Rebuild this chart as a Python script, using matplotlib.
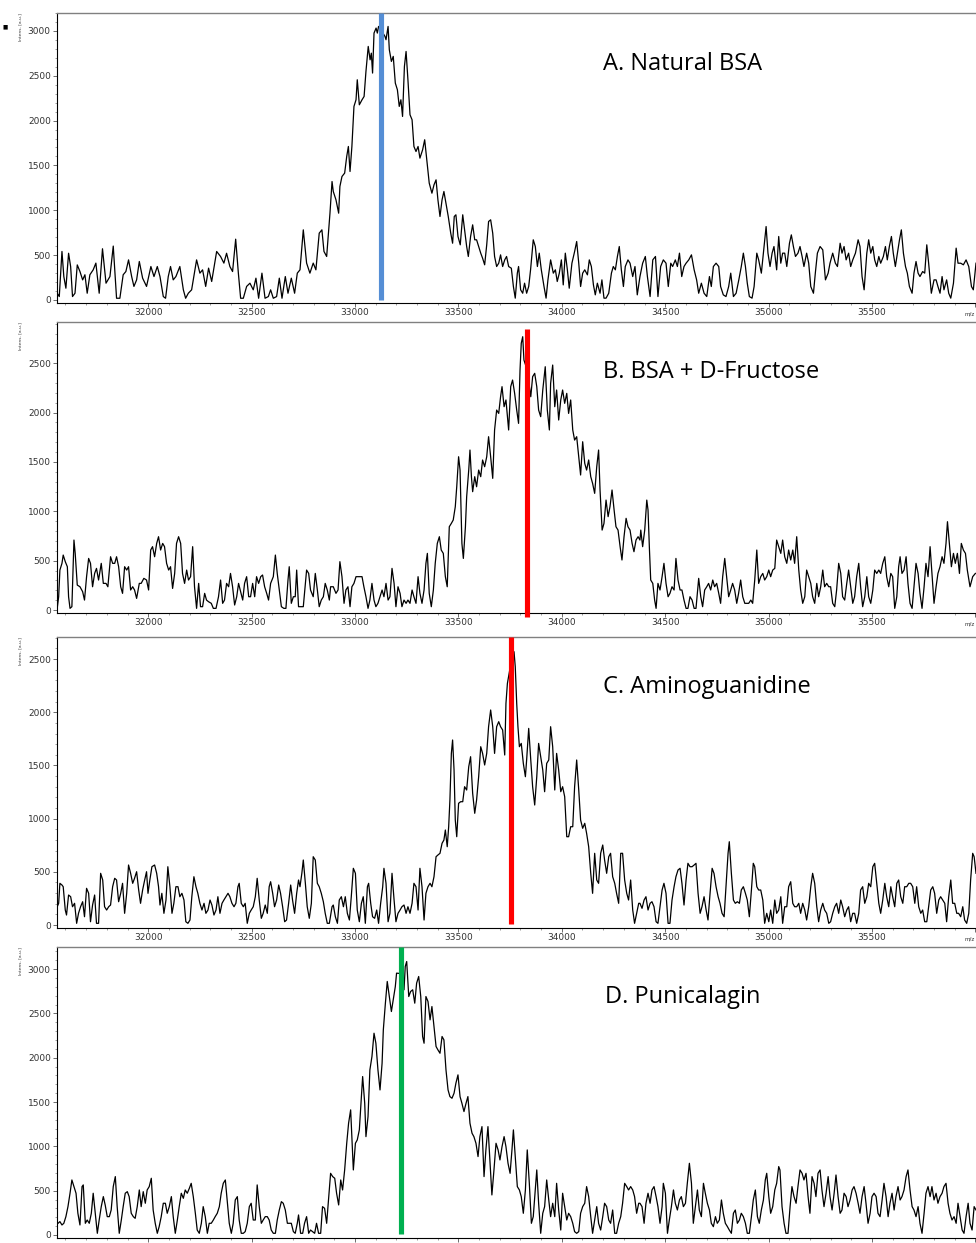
import numpy as np
import matplotlib.pyplot as plt
from matplotlib.ticker import MultipleLocator, FuncFormatter

# ---------------- data (m/z, intensity a.u.) ----------------
spec_a = [
    (31560, 74), (31570, 37), (31583, 540), (31592, 260), (31602, 130), (31615, 520), (31625, 370),
    (31634, 37), (31646, 74), (31657, 390), (31670, 316), (31683, 223), (31694, 280), (31705, 74),
    (31718, 280), (31734, 335), (31747, 410), (31763, 74), (31779, 570), (31796, 186), (31815, 260),
    (31831, 600), (31847, 18), (31863, 18), (31879, 280), (31892, 316), (31905, 446), (31920, 260),
    (31931, 150), (31944, 223), (31957, 428), (31973, 242), (31992, 150), (32013, 372), (32028, 260),
    (32044, 372), (32057, 260), (32073, 37), (32084, 18), (32097, 260), (32108, 372), (32121, 223),
    (32134, 260), (32153, 372), (32170, 112), (32181, 18), (32194, 74), (32210, 112), (32234, 446),
    (32250, 298), (32263, 335), (32278, 150), (32292, 354), (32307, 205), (32331, 540), (32350, 484),
    (32366, 410), (32379, 520), (32395, 372), (32408, 316), (32423, 677), (32436, 298), (32447, 18),
    (32460, 18), (32476, 150), (32492, 186), (32508, 112), (32521, 242), (32534, 18), (32550, 298),
    (32565, 18), (32581, 37), (32592, 112), (32605, 18), (32621, 37), (32634, 242), (32647, 18),
    (32663, 260), (32676, 74), (32692, 242), (32708, 74), (32721, 298), (32734, 335), (32750, 781),
    (32766, 410), (32782, 298), (32798, 410), (32811, 335), (32827, 744), (32840, 781), (32850, 540),
    (32863, 484), (32879, 967), (32889, 1320), (32895, 1209), (32908, 1116), (32921, 967),
    (32927, 1265), (32937, 1376), (32950, 1414), (32960, 1600), (32968, 1711), (32976, 1432),
    (32985, 1711), (32995, 2158), (33005, 2232), (33011, 2455), (33021, 2176), (33034, 2232),
    (33044, 2269), (33053, 2548), (33064, 2827), (33073, 2678), (33079, 2752), (33085, 2530),
    (33092, 2976), (33102, 3032), (33108, 2976), (33114, 3050), (33129, 3000), (33145, 2939),
    (33150, 2902), (33160, 3050), (33166, 2790), (33176, 2660), (33185, 2716), (33195, 2418),
    (33205, 2344), (33214, 2158), (33222, 2232), (33230, 2046), (33239, 2604), (33247, 2771),
    (33256, 2455), (33266, 2065), (33276, 2009), (33285, 1711), (33295, 1655), (33305, 1711),
    (33314, 1581), (33327, 1674), (33337, 1786), (33347, 1562), (33359, 1302), (33372, 1190),
    (33382, 1283), (33392, 1339), (33401, 1116), (33411, 930), (33421, 1116), (33430, 1209),
    (33440, 1079), (33451, 930), (33463, 744), (33472, 632), (33480, 930), (33488, 949),
    (33498, 707), (33509, 614), (33521, 949), (33530, 781), (33540, 595), (33548, 484), (33559, 707),
    (33569, 837), (33579, 670), (33588, 670), (33598, 595), (33608, 521), (33617, 465), (33627, 391),
    (33637, 614), (33646, 874), (33656, 893), (33666, 744), (33675, 484), (33685, 372), (33695, 409),
    (33704, 502), (33714, 372), (33724, 446), (33733, 484), (33743, 372), (33756, 353), (33766, 149),
    (33775, 19), (33785, 298), (33791, 372), (33801, 112), (33811, 74), (33820, 186), (33830, 74),
    (33840, 149), (33849, 335), (33862, 670), (33872, 595), (33882, 372), (33891, 521), (33901, 335),
    (33914, 149), (33924, 19), (33933, 223), (33946, 446), (33959, 298), (33969, 335), (33978, 205),
    (33988, 298), (33998, 446), (34007, 167), (34017, 521), (34027, 335), (34036, 130), (34049, 409),
    (34062, 539), (34072, 651), (34082, 409), (34091, 149), (34101, 298), (34111, 335), (34124, 279),
    (34133, 446), (34143, 372), (34153, 167), (34162, 56), (34172, 186), (34185, 74), (34194, 223),
    (34204, 19), (34214, 19), (34227, 74), (34240, 298), (34249, 372), (34259, 335), (34269, 484),
    (34278, 595), (34288, 335), (34298, 149), (34307, 372), (34320, 446), (34330, 409), (34343, 260),
    (34354, 372), (34365, 56), (34378, 260), (34391, 409), (34404, 484), (34414, 260), (34427, 37),
    (34440, 446), (34453, 484), (34465, 37), (34478, 372), (34491, 446), (34504, 409), (34515, 149),
    (34527, 409), (34536, 372), (34549, 446), (34559, 372), (34569, 521), (34580, 260), (34591, 372),
    (34601, 409), (34614, 446), (34627, 502), (34640, 335), (34652, 223), (34662, 74), (34675, 186),
    (34688, 74), (34701, 37), (34714, 260), (34723, 149), (34733, 372), (34746, 409), (34759, 372),
    (34768, 149), (34781, 56), (34794, 37), (34807, 149), (34817, 298), (34830, 37), (34843, 74),
    (34856, 223), (34868, 372), (34878, 521), (34888, 372), (34897, 186), (34907, 37), (34920, 19),
    (34930, 149), (34943, 521), (34952, 446), (34965, 298), (34975, 521), (34988, 818), (34997, 521),
    (35007, 372), (35017, 521), (35026, 595), (35039, 335), (35049, 707), (35059, 409), (35068, 521),
    (35078, 521), (35088, 372), (35101, 632), (35110, 725), (35120, 595), (35130, 484), (35142, 521),
    (35152, 595), (35162, 484), (35171, 372), (35184, 521), (35194, 409), (35204, 149), (35217, 74),
    (35226, 298), (35236, 521), (35249, 595), (35262, 558), (35275, 223), (35288, 298), (35297, 409),
    (35310, 521), (35323, 409), (35333, 372), (35346, 632), (35355, 521), (35365, 595), (35375, 446),
    (35387, 521), (35397, 372), (35407, 446), (35420, 521), (35433, 670), (35442, 595), (35452, 260),
    (35462, 112), (35475, 521), (35484, 670), (35494, 521), (35504, 595), (35513, 446), (35523, 372),
    (35533, 484), (35542, 409), (35555, 484), (35565, 595), (35574, 446), (35584, 595), (35594, 707),
    (35603, 521), (35613, 372), (35623, 521), (35633, 670), (35642, 781), (35652, 521), (35662, 372),
    (35671, 298), (35681, 149), (35694, 74), (35703, 298), (35713, 428), (35723, 298), (35732, 260),
    (35745, 316), (35755, 298), (35765, 614), (35774, 409), (35787, 74), (35800, 223), (35810, 223),
    (35819, 149), (35829, 74), (35839, 260), (35848, 112), (35861, 223), (35871, 74), (35881, 19),
    (35894, 186), (35907, 577), (35916, 409), (35929, 409), (35942, 391), (35955, 446), (35968, 372),
    (35981, 149), (35990, 112), (36003, 409),
]

spec_b = [
    (31560, 17), (31567, 135), (31573, 405), (31583, 473), (31589, 557), (31599, 490), (31609, 439),
    (31615, 135), (31622, 17), (31631, 34), (31641, 709), (31647, 574), (31657, 253), (31670, 236),
    (31683, 186), (31692, 101), (31702, 338), (31712, 523), (31721, 473), (31731, 236), (31741, 371),
    (31750, 422), (31760, 304), (31773, 473), (31783, 270), (31796, 270), (31805, 236), (31818, 540),
    (31828, 473), (31838, 473), (31847, 540), (31857, 439), (31867, 236), (31876, 169), (31886, 439),
    (31896, 405), (31905, 439), (31915, 203), (31925, 236), (31934, 203), (31944, 118), (31957, 270),
    (31966, 270), (31979, 321), (31992, 304), (32002, 203), (32012, 608), (32021, 642), (32031, 540),
    (32041, 675), (32050, 743), (32060, 608), (32070, 675), (32079, 642), (32089, 473), (32099, 405),
    (32108, 439), (32118, 219), (32128, 371), (32137, 675), (32147, 743), (32157, 675), (32166, 371),
    (32176, 270), (32186, 405), (32195, 304), (32205, 338), (32215, 642), (32224, 236), (32234, 17),
    (32244, 270), (32253, 34), (32263, 34), (32273, 169), (32282, 101), (32292, 84), (32305, 68),
    (32315, 17), (32328, 17), (32340, 135), (32350, 304), (32360, 68), (32369, 101), (32379, 270),
    (32389, 236), (32398, 371), (32408, 236), (32418, 51), (32428, 135), (32437, 270), (32447, 186),
    (32457, 101), (32466, 270), (32476, 338), (32486, 135), (32495, 135), (32505, 270), (32515, 135),
    (32524, 338), (32534, 270), (32544, 338), (32553, 355), (32563, 236), (32573, 169), (32582, 101),
    (32592, 270), (32605, 338), (32615, 557), (32624, 371), (32634, 203), (32644, 34), (32656, 17),
    (32666, 17), (32676, 304), (32682, 439), (32692, 68), (32702, 135), (32711, 135), (32718, 405),
    (32727, 34), (32737, 34), (32750, 34), (32766, 405), (32776, 371), (32785, 203), (32798, 135),
    (32808, 371), (32818, 203), (32827, 34), (32837, 101), (32847, 135), (32856, 270), (32866, 203),
    (32876, 101), (32882, 236), (32895, 236), (32908, 169), (32918, 203), (32927, 490), (32937, 338),
    (32947, 68), (32956, 203), (32966, 236), (32976, 34), (32985, 236), (32995, 270), (33005, 338),
    (33014, 338), (33024, 338), (33034, 338), (33043, 236), (33053, 135), (33063, 17), (33072, 101),
    (33082, 270), (33092, 101), (33101, 34), (33111, 68), (33121, 135), (33131, 203), (33140, 135),
    (33150, 270), (33160, 101), (33169, 135), (33179, 422), (33189, 270), (33198, 34), (33208, 236),
    (33218, 169), (33227, 34), (33237, 101), (33247, 68), (33256, 101), (33266, 68), (33276, 203),
    (33285, 135), (33295, 68), (33305, 338), (33314, 169), (33324, 68), (33334, 203), (33343, 473),
    (33350, 574), (33359, 169), (33369, 34), (33379, 203), (33388, 473), (33398, 675), (33408, 743),
    (33417, 608), (33427, 574), (33437, 338), (33446, 236), (33456, 844), (33466, 878), (33475, 912),
    (33485, 1047), (33492, 1249), (33501, 1553), (33508, 1418), (33517, 675), (33524, 523),
    (33534, 844), (33540, 1148), (33550, 1418), (33556, 1621), (33563, 1351), (33569, 1199),
    (33579, 1351), (33588, 1249), (33598, 1418), (33608, 1351), (33617, 1520), (33627, 1452),
    (33637, 1553), (33646, 1756), (33656, 1553), (33666, 1334), (33675, 1824), (33685, 2026),
    (33695, 1992), (33704, 2161), (33711, 2263), (33721, 2060), (33730, 2128), (33743, 1824),
    (33753, 2263), (33762, 2330), (33772, 2195), (33782, 2026), (33791, 1891), (33798, 2431),
    (33804, 2702), (33811, 2769), (33817, 2533), (33833, 2430), (33850, 2161), (33859, 2364),
    (33869, 2398), (33879, 2263), (33888, 2026), (33898, 1959), (33908, 2229), (33920, 2465),
    (33930, 2026), (33940, 1824), (33946, 2296), (33956, 2482), (33966, 2060), (33975, 2229),
    (33985, 1925), (33995, 2128), (34004, 2229), (34014, 2094), (34024, 2195), (34033, 1992),
    (34043, 2128), (34053, 1824), (34062, 1722), (34072, 1756), (34082, 1553), (34091, 1368),
    (34101, 1705), (34111, 1486), (34120, 1418), (34130, 1520), (34140, 1351), (34149, 1283),
    (34159, 1182), (34169, 1452), (34178, 1621), (34185, 1216), (34195, 810), (34204, 878),
    (34214, 1114), (34224, 946), (34233, 1047), (34243, 1216), (34253, 1013), (34262, 844),
    (34272, 810), (34282, 642), (34291, 507), (34301, 743), (34311, 929), (34320, 844), (34330, 810),
    (34340, 675), (34349, 591), (34359, 709), (34369, 743), (34378, 709), (34382, 810), (34391, 642),
    (34401, 810), (34411, 1114), (34417, 1013), (34424, 608), (34430, 304), (34440, 270), (34449, 101),
    (34456, 17), (34465, 270), (34475, 203), (34485, 338), (34494, 473), (34504, 270), (34514, 135),
    (34523, 169), (34533, 236), (34543, 203), (34552, 523), (34562, 304), (34572, 203), (34581, 203),
    (34591, 101), (34601, 17), (34610, 17), (34620, 135), (34630, 101), (34640, 17), (34649, 17),
    (34662, 321), (34672, 135), (34681, 34), (34691, 203), (34701, 236), (34710, 270), (34720, 203),
    (34730, 304), (34739, 236), (34749, 270), (34759, 169), (34768, 68), (34778, 338), (34788, 523),
    (34797, 338), (34807, 135), (34817, 203), (34826, 270), (34836, 203), (34846, 68), (34855, 169),
    (34865, 304), (34875, 135), (34885, 68), (34894, 68), (34904, 68), (34914, 101), (34923, 68),
    (34933, 304), (34943, 608), (34952, 270), (34962, 338), (34972, 371), (34981, 304), (34991, 338),
    (35001, 405), (35010, 338), (35020, 405), (35030, 422), (35039, 709), (35049, 642), (35059, 574),
    (35068, 709), (35078, 540), (35088, 473), (35097, 608), (35107, 507), (35117, 608), (35126, 473),
    (35136, 743), (35146, 405), (35155, 203), (35165, 68), (35175, 135), (35184, 405), (35194, 338),
    (35204, 270), (35213, 135), (35223, 68), (35233, 270), (35242, 135), (35252, 236), (35262, 405),
    (35271, 236), (35281, 270), (35291, 236), (35300, 236), (35310, 68), (35320, 34), (35329, 203),
    (35339, 473), (35349, 371), (35358, 135), (35368, 101), (35378, 270), (35387, 405), (35397, 236),
    (35407, 68), (35416, 135), (35426, 338), (35436, 473), (35445, 236), (35455, 34), (35465, 135),
    (35475, 338), (35484, 135), (35494, 68), (35504, 203), (35513, 405), (35523, 371), (35533, 405),
    (35542, 371), (35552, 473), (35562, 540), (35571, 338), (35581, 236), (35591, 371), (35600, 338),
    (35610, 17), (35620, 135), (35629, 439), (35636, 540), (35645, 371), (35655, 405), (35665, 540),
    (35674, 270), (35684, 68), (35694, 17), (35703, 236), (35713, 473), (35723, 371), (35732, 169),
    (35742, 17), (35752, 236), (35761, 473), (35771, 338), (35781, 642), (35790, 371), (35800, 68),
    (35810, 236), (35819, 371), (35829, 439), (35839, 540), (35848, 473), (35858, 675), (35865, 895),
    (35874, 675), (35884, 439), (35894, 574), (35903, 473), (35913, 574), (35923, 371), (35932, 675),
    (35942, 608), (35952, 574), (35961, 405), (35974, 236), (35987, 338), (36000, 371),
]

spec_c = [
    (31560, 172), (31567, 204), (31573, 392), (31583, 376), (31589, 360), (31599, 141), (31605, 94),
    (31615, 282), (31625, 266), (31634, 172), (31644, 204), (31654, 16), (31663, 110), (31673, 172),
    (31683, 219), (31692, 78), (31702, 345), (31712, 298), (31721, 31), (31731, 188), (31741, 282),
    (31750, 16), (31760, 16), (31770, 486), (31780, 423), (31789, 172), (31799, 141), (31809, 172),
    (31818, 188), (31828, 360), (31838, 439), (31847, 423), (31857, 219), (31867, 298), (31876, 392),
    (31886, 110), (31896, 298), (31905, 564), (31915, 486), (31925, 392), (31934, 439), (31944, 501),
    (31954, 329), (31963, 204), (31973, 329), (31983, 423), (31992, 501), (31999, 298), (32008, 423),
    (32018, 548), (32031, 564), (32041, 486), (32050, 360), (32057, 188), (32066, 298), (32076, 110),
    (32086, 235), (32095, 548), (32105, 360), (32115, 110), (32124, 204), (32134, 360), (32144, 360),
    (32153, 266), (32163, 298), (32173, 235), (32182, 31), (32192, 16), (32202, 47), (32211, 266),
    (32221, 454), (32231, 360), (32240, 298), (32250, 204), (32260, 141), (32270, 204), (32279, 110),
    (32289, 141), (32299, 235), (32308, 188), (32318, 94), (32328, 141), (32337, 266), (32347, 110),
    (32357, 204), (32366, 235), (32376, 266), (32386, 298), (32395, 266), (32405, 204), (32415, 172),
    (32424, 204), (32434, 360), (32440, 392), (32450, 204), (32460, 172), (32469, 204), (32479, 16),
    (32489, 110), (32498, 141), (32508, 172), (32518, 266), (32527, 439), (32537, 235), (32547, 63),
    (32556, 110), (32566, 188), (32576, 110), (32585, 360), (32592, 407), (32602, 298), (32611, 172),
    (32621, 235), (32631, 376), (32640, 298), (32650, 172), (32660, 31), (32669, 47), (32679, 204),
    (32689, 376), (32698, 235), (32708, 110), (32718, 298), (32727, 423), (32734, 360), (32743, 486),
    (32750, 611), (32760, 392), (32769, 172), (32779, 63), (32789, 204), (32798, 642), (32808, 611),
    (32818, 392), (32827, 360), (32837, 298), (32847, 219), (32856, 110), (32866, 16), (32876, 16),
    (32889, 172), (32895, 188), (32905, 78), (32915, 16), (32924, 235), (32934, 266), (32944, 172),
    (32953, 266), (32963, 110), (32973, 47), (32982, 266), (32992, 533), (33002, 486), (33011, 141),
    (33021, 31), (33031, 204), (33040, 266), (33050, 16), (33060, 360), (33066, 392), (33076, 204),
    (33085, 78), (33095, 63), (33105, 141), (33114, 16), (33124, 204), (33134, 360), (33140, 533),
    (33150, 392), (33160, 31), (33169, 110), (33179, 486), (33189, 235), (33198, 31), (33208, 110),
    (33218, 141), (33227, 172), (33237, 188), (33247, 110), (33256, 172), (33266, 110), (33276, 204),
    (33285, 392), (33295, 360), (33305, 141), (33314, 533), (33324, 360), (33334, 47), (33343, 298),
    (33353, 360), (33363, 392), (33372, 360), (33382, 454), (33392, 642), (33401, 658), (33411, 674),
    (33421, 768), (33430, 799), (33437, 893), (33446, 736), (33453, 924), (33459, 1175), (33466, 1613),
    (33472, 1739), (33479, 1457), (33485, 987), (33492, 830), (33501, 1144), (33511, 1159),
    (33521, 1159), (33530, 1300), (33540, 1269), (33550, 1488), (33559, 1582), (33569, 1238),
    (33579, 1050), (33588, 1175), (33598, 1394), (33608, 1676), (33617, 1613), (33627, 1504),
    (33637, 1613), (33646, 1864), (33656, 2021), (33666, 1864), (33675, 1613), (33685, 1864),
    (33695, 1911), (33704, 1864), (33714, 1833), (33724, 1598), (33730, 2083), (33737, 2271),
    (33753, 2450), (33769, 2569), (33775, 2428), (33782, 2083), (33788, 1864), (33795, 1676),
    (33804, 1707), (33814, 1519), (33824, 1394), (33830, 1551), (33840, 1848), (33850, 1551),
    (33859, 1300), (33869, 1128), (33879, 1394), (33888, 1707), (33898, 1582), (33908, 1457),
    (33917, 1253), (33927, 1519), (33937, 1551), (33946, 1864), (33956, 1676), (33966, 1269),
    (33975, 1613), (33985, 1457), (33995, 1253), (34004, 1300), (34014, 1206), (34024, 830),
    (34033, 830), (34043, 924), (34053, 924), (34062, 1300), (34072, 1551), (34082, 1269), (34091, 987),
    (34101, 909), (34111, 956), (34120, 862), (34130, 736), (34140, 486), (34149, 298), (34159, 674),
    (34169, 423), (34178, 392), (34188, 674), (34198, 752), (34207, 611), (34217, 486), (34227, 642),
    (34236, 674), (34246, 454), (34256, 392), (34265, 298), (34275, 204), (34285, 674), (34294, 674),
    (34304, 423), (34314, 298), (34323, 235), (34333, 423), (34343, 141), (34352, 16), (34362, 110),
    (34372, 204), (34378, 204), (34388, 157), (34398, 235), (34407, 266), (34417, 141), (34427, 204),
    (34436, 219), (34446, 172), (34456, 31), (34465, 16), (34475, 172), (34485, 329), (34494, 392),
    (34504, 298), (34514, 16), (34523, 16), (34533, 235), (34543, 360), (34552, 454), (34562, 517),
    (34572, 533), (34581, 392), (34591, 188), (34601, 423), (34610, 580), (34620, 548), (34630, 548),
    (34640, 564), (34649, 580), (34659, 298), (34669, 110), (34678, 172), (34688, 266), (34698, 141),
    (34707, 47), (34717, 298), (34727, 533), (34736, 486), (34746, 360), (34756, 266), (34765, 204),
    (34775, 110), (34785, 78), (34794, 360), (34804, 674), (34810, 783), (34820, 486), (34830, 235),
    (34839, 204), (34849, 219), (34859, 204), (34868, 329), (34878, 360), (34888, 298), (34897, 235),
    (34907, 78), (34917, 329), (34926, 580), (34933, 548), (34943, 360), (34952, 329), (34962, 329),
    (34972, 235), (34981, 16), (34991, 110), (35001, 31), (35010, 141), (35020, 16), (35030, 235),
    (35039, 110), (35049, 141), (35059, 266), (35068, 16), (35078, 172), (35088, 172), (35097, 360),
    (35107, 407), (35117, 204), (35126, 172), (35136, 172), (35146, 204), (35155, 110), (35165, 204),
    (35175, 141), (35184, 47), (35194, 172), (35204, 360), (35213, 486), (35223, 392), (35233, 172),
    (35242, 31), (35252, 141), (35262, 204), (35271, 141), (35281, 110), (35291, 16), (35300, 31),
    (35310, 110), (35320, 172), (35329, 204), (35339, 110), (35349, 235), (35358, 172), (35368, 78),
    (35378, 141), (35387, 172), (35397, 31), (35407, 110), (35416, 110), (35426, 16), (35436, 110),
    (35445, 329), (35455, 360), (35465, 204), (35475, 266), (35484, 392), (35494, 360), (35504, 548),
    (35513, 580), (35523, 392), (35533, 204), (35542, 110), (35552, 235), (35562, 392), (35571, 266),
    (35581, 172), (35591, 360), (35600, 266), (35610, 172), (35620, 392), (35629, 423), (35639, 266),
    (35649, 204), (35658, 360), (35668, 360), (35678, 392), (35687, 392), (35697, 360), (35707, 204),
    (35716, 360), (35726, 172), (35736, 110), (35745, 141), (35755, 31), (35765, 31), (35774, 172),
    (35784, 329), (35794, 360), (35803, 298), (35813, 110), (35823, 235), (35832, 266), (35842, 235),
    (35852, 204), (35861, 31), (35871, 266), (35881, 423), (35890, 204), (35900, 204), (35910, 110),
    (35919, 110), (35929, 78), (35939, 172), (35948, 47), (35958, 16), (35968, 110), (35977, 423),
    (35987, 674), (35994, 642), (36003, 486),
]

spec_d = [
    (31564, 132), (31573, 151), (31583, 113), (31592, 132), (31602, 207), (31612, 320), (31622, 471),
    (31631, 621), (31641, 546), (31651, 471), (31660, 245), (31670, 113), (31680, 546), (31686, 565),
    (31696, 132), (31705, 169), (31715, 132), (31725, 245), (31734, 471), (31744, 245), (31754, 19),
    (31763, 169), (31773, 320), (31783, 433), (31792, 339), (31802, 207), (31812, 207), (31821, 282),
    (31831, 546), (31841, 659), (31850, 320), (31860, 19), (31870, 169), (31879, 320), (31889, 471),
    (31899, 489), (31908, 433), (31918, 245), (31928, 207), (31937, 188), (31947, 320), (31957, 508),
    (31966, 320), (31976, 489), (31986, 358), (31995, 508), (32005, 546), (32015, 640), (32024, 282),
    (32034, 132), (32044, 19), (32053, 94), (32063, 207), (32073, 358), (32083, 358), (32092, 245),
    (32102, 320), (32112, 433), (32121, 207), (32131, 19), (32141, 169), (32150, 320), (32160, 471),
    (32170, 414), (32179, 508), (32189, 471), (32199, 527), (32208, 583), (32218, 433), (32228, 245),
    (32237, 56), (32247, 19), (32257, 132), (32266, 320), (32276, 207), (32286, 19), (32295, 132),
    (32305, 132), (32315, 169), (32324, 207), (32334, 245), (32344, 320), (32353, 471), (32363, 583),
    (32373, 621), (32382, 395), (32392, 132), (32402, 19), (32411, 132), (32421, 395), (32431, 433),
    (32440, 169), (32450, 19), (32460, 19), (32469, 38), (32479, 132), (32489, 320), (32498, 358),
    (32508, 169), (32518, 169), (32527, 565), (32537, 320), (32547, 132), (32556, 169), (32566, 207),
    (32576, 207), (32585, 169), (32595, 56), (32605, 19), (32615, 19), (32624, 169), (32634, 282),
    (32644, 376), (32653, 358), (32663, 282), (32673, 132), (32682, 132), (32692, 132), (32702, 38),
    (32711, 19), (32721, 132), (32727, 226), (32737, 19), (32747, 19), (32756, 132), (32766, 207),
    (32776, 19), (32785, 56), (32795, 38), (32805, 19), (32814, 132), (32824, 19), (32834, 19),
    (32843, 320), (32853, 301), (32863, 132), (32873, 433), (32882, 696), (32892, 659), (32902, 640),
    (32911, 471), (32921, 339), (32931, 621), (32940, 508), (32950, 734), (32960, 1035), (32969, 1261),
    (32979, 1412), (32985, 1110), (32992, 734), (33002, 1035), (33011, 1073), (33021, 1186),
    (33031, 1562), (33037, 1788), (33047, 1487), (33053, 1110), (33063, 1336), (33072, 1863),
    (33082, 2014), (33092, 2277), (33101, 2164), (33111, 1863), (33121, 1637), (33131, 1938),
    (33137, 2315), (33147, 2616), (33156, 2861), (33166, 2691), (33176, 2522), (33185, 2654),
    (33195, 2804), (33201, 2955), (33221, 2950), (33237, 2767), (33243, 3030), (33250, 3086),
    (33260, 2691), (33269, 2748), (33279, 2767), (33289, 2616), (33298, 2842), (33308, 2917),
    (33318, 2691), (33327, 2240), (33334, 2164), (33343, 2691), (33353, 2635), (33363, 2428),
    (33372, 2578), (33382, 2353), (33392, 2127), (33401, 2089), (33411, 2051), (33421, 2240),
    (33430, 2202), (33440, 1863), (33450, 1637), (33459, 1562), (33469, 1543), (33479, 1600),
    (33488, 1713), (33498, 1807), (33508, 1562), (33517, 1487), (33527, 1393), (33537, 1487),
    (33546, 1562), (33556, 1261), (33566, 1148), (33575, 1110), (33585, 1035), (33595, 885),
    (33604, 1110), (33614, 1223), (33624, 659), (33633, 960), (33643, 1223), (33653, 809), (33662, 452),
    (33672, 734), (33682, 1035), (33692, 960), (33701, 847), (33711, 997), (33721, 1110), (33730, 997),
    (33740, 809), (33750, 696), (33759, 960), (33766, 1186), (33775, 885), (33785, 546), (33795, 508),
    (33804, 433), (33814, 245), (33824, 508), (33833, 960), (33843, 583), (33853, 132), (33862, 207),
    (33872, 508), (33879, 734), (33888, 358), (33898, 19), (33908, 245), (33917, 320), (33927, 621),
    (33937, 395), (33946, 207), (33956, 358), (33966, 207), (33975, 583), (33985, 282), (33995, 56),
    (34004, 471), (34014, 320), (34024, 169), (34033, 245), (34043, 207), (34053, 132), (34062, 38),
    (34072, 19), (34082, 38), (34091, 245), (34101, 320), (34111, 358), (34120, 546), (34130, 433),
    (34140, 207), (34149, 19), (34159, 169), (34169, 320), (34178, 132), (34188, 56), (34198, 207),
    (34207, 358), (34217, 320), (34227, 169), (34236, 132), (34246, 282), (34256, 19), (34265, 19),
    (34275, 132), (34285, 207), (34294, 358), (34304, 583), (34314, 546), (34323, 508), (34333, 546),
    (34343, 508), (34352, 433), (34362, 245), (34372, 358), (34378, 358), (34388, 320), (34398, 132),
    (34407, 358), (34417, 471), (34427, 358), (34436, 508), (34446, 546), (34456, 433), (34465, 320),
    (34475, 132), (34485, 320), (34491, 583), (34501, 471), (34511, 19), (34520, 169), (34530, 320),
    (34540, 508), (34549, 358), (34559, 282), (34569, 395), (34578, 433), (34588, 320), (34598, 358),
    (34607, 583), (34617, 809), (34627, 583), (34636, 132), (34646, 320), (34656, 508), (34665, 282),
    (34675, 207), (34685, 583), (34694, 471), (34704, 358), (34714, 282), (34723, 132), (34733, 94),
    (34743, 207), (34752, 132), (34762, 169), (34772, 395), (34781, 245), (34791, 132), (34801, 94),
    (34810, 56), (34820, 19), (34830, 245), (34839, 282), (34849, 132), (34859, 169), (34868, 245),
    (34878, 207), (34888, 132), (34897, 19), (34907, 19), (34917, 207), (34926, 395), (34936, 508),
    (34946, 207), (34955, 132), (34965, 282), (34975, 395), (34984, 621), (34991, 696), (35001, 433),
    (35010, 245), (35020, 320), (35030, 508), (35039, 583), (35049, 772), (35055, 734), (35065, 320),
    (35075, 132), (35084, 19), (35094, 19), (35104, 320), (35113, 546), (35123, 433), (35133, 358),
    (35142, 546), (35152, 734), (35162, 696), (35171, 621), (35181, 696), (35191, 433), (35200, 245),
    (35210, 659), (35220, 583), (35229, 433), (35239, 696), (35249, 734), (35258, 508), (35268, 320),
    (35278, 471), (35288, 659), (35297, 433), (35307, 282), (35317, 471), (35326, 677), (35336, 433),
    (35346, 245), (35355, 282), (35365, 471), (35375, 433), (35384, 320), (35394, 395), (35404, 508),
    (35413, 546), (35423, 471), (35433, 358), (35442, 245), (35452, 433), (35462, 546), (35471, 358),
    (35481, 132), (35491, 245), (35500, 433), (35510, 471), (35520, 433), (35529, 245), (35539, 207),
    (35549, 395), (35558, 583), (35568, 433), (35578, 207), (35587, 358), (35597, 471), (35607, 282),
    (35616, 433), (35626, 546), (35636, 395), (35645, 433), (35655, 508), (35665, 659), (35674, 734),
    (35684, 508), (35694, 320), (35703, 282), (35713, 207), (35723, 320), (35732, 132), (35742, 19),
    (35752, 245), (35761, 471), (35771, 546), (35781, 433), (35790, 546), (35800, 395), (35810, 471),
    (35819, 358), (35829, 433), (35839, 471), (35848, 546), (35858, 583), (35868, 358), (35877, 245),
    (35887, 169), (35897, 207), (35907, 132), (35916, 358), (35926, 207), (35936, 56), (35945, 19),
    (35955, 207), (35965, 358), (35974, 132), (35984, 56), (35994, 320), (36003, 282),
]

labels = ["A. Natural BSA", "B. BSA + D-Fructose", "C. Aminoguanidine", "D. Punicalagin"]
marker_mz = [33128, 33833, 33753, 33222]        # hand-drawn peak markers
marker_colors = ["#558ED5", "#FF0000", "#FF0000", "#00B050"]
y_tops = [3200, 2918, 2707, 3250]
y_bottoms = [-35, -30, -28, -34]

# ---------------------- layout (pixels of the 976x1243 picture) ----------------------
W, H = 976, 1243
boxes = [(57, 13, 976, 303), (57, 322, 976, 613), (57, 637, 976, 928), (57, 947, 976, 1238)]
marker_span = [(0.01, 1.0), (-0.014, 0.976), (0.014, 1.0), (0.014, 1.0)]
label_pos = [(603, 70), (603, 378), (603, 693), (605, 1003)]

# the last tick sits on the right edge and carries no label
x_fmt = FuncFormatter(lambda v, pos: "" if v > 35900 else f"{v:.0f}")

fig = plt.figure(figsize=(W / 100, H / 100), dpi=100)

for i, spec in enumerate([spec_a, spec_b, spec_c, spec_d]):
    l, t, r, b = boxes[i]
    ax = fig.add_axes([l / W, 1 - b / H, (r - l) / W, (b - t) / H])
    mz, inten = np.array(spec).T
    ax.plot(mz, inten, color="black", lw=0.9)

    ax.set_xlim(31559, 36003)
    ax.set_ylim(y_bottoms[i], y_tops[i])
    ax.xaxis.set_major_locator(MultipleLocator(500))
    ax.xaxis.set_minor_locator(MultipleLocator(100))
    ax.xaxis.set_major_formatter(x_fmt)
    ax.yaxis.set_major_locator(MultipleLocator(500))
    ax.yaxis.set_minor_locator(MultipleLocator(100))
    ax.tick_params(which="major", length=3, width=0.6, labelsize=6.5, labelcolor="#333333",
                   color="#555555", pad=1.5)
    ax.tick_params(axis="x", which="major", pad=0.8)
    ax.tick_params(which="minor", length=1.5, width=0.5, color="#777777")

    ax.spines["right"].set_visible(False)
    ax.spines["top"].set_color("#808080")
    ax.spines["top"].set_linewidth(1.0)
    ax.spines["left"].set_linewidth(0.8)
    ax.spines["bottom"].set_linewidth(0.8)

    ax.text(-0.040, 1.0, "Intens. [a.u.]", rotation=90, fontsize=3.2, ha="center", va="top",
            transform=ax.transAxes, color="#333333")
    ax.text(0.999, -0.03, "m/z", fontsize=4, ha="right", va="top", transform=ax.transAxes,
            color="#333333")

    y0, y1 = marker_span[i]
    ax.axvline(marker_mz[i], ymin=y0, ymax=y1, color=marker_colors[i], lw=3.7,
               solid_capstyle="butt", clip_on=False, zorder=5)

    lx, ly = label_pos[i]
    fig.text(lx / W, 1 - ly / H, labels[i], fontsize=17, family=["Open Sans", "DejaVu Sans"],
             ha="left", va="baseline", color="black")

# small stray bullet at the top-left of the original figure
fig.text(5 / W, 1 - 27 / H, "\u25a0", fontsize=4, ha="center", va="center")

fig.savefig("out.png", dpi=100)
